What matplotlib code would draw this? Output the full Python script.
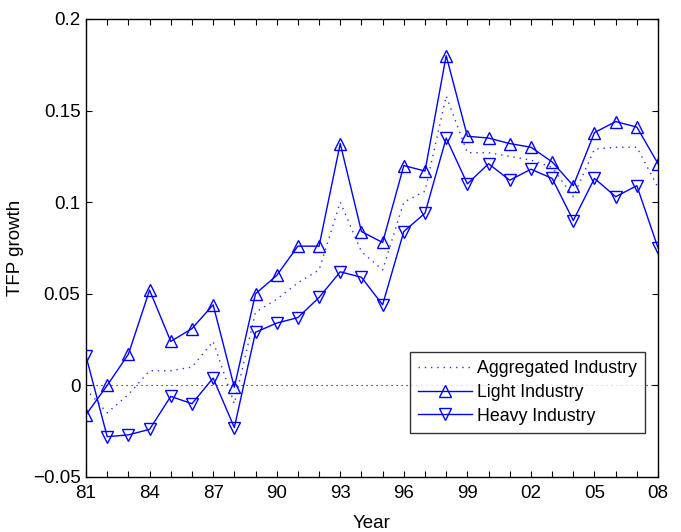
import matplotlib
matplotlib.use('Agg')
import matplotlib.pyplot as plt

years = list(range(1981, 2009))

# TFP growth
aggregated = [-0.002, -0.015, -0.005, 0.008, 0.008, 0.010, 0.024, -0.010,
              0.040, 0.047, 0.056, 0.063, 0.100, 0.073, 0.063, 0.100,
              0.106, 0.158, 0.127, 0.127, 0.125, 0.123, 0.119, 0.103,
              0.129, 0.130, 0.130, 0.108]
light = [-0.016, 0.000, 0.017, 0.052, 0.024, 0.031, 0.044, -0.001,
         0.050, 0.060, 0.076, 0.076, 0.132, 0.084, 0.078, 0.120,
         0.117, 0.180, 0.136, 0.135, 0.132, 0.130, 0.122, 0.109,
         0.138, 0.144, 0.141, 0.121]
heavy = [0.016, -0.028, -0.027, -0.024, -0.006, -0.010, 0.004, -0.023,
         0.029, 0.034, 0.037, 0.048, 0.062, 0.059, 0.044, 0.084,
         0.094, 0.135, 0.110, 0.121, 0.112, 0.118, 0.113, 0.090,
         0.113, 0.103, 0.109, 0.075]

label_years = [1981, 1984, 1987, 1990, 1993, 1996, 1999, 2002, 2005, 2008]
yticks = [-0.05, 0, 0.05, 0.1, 0.15, 0.2]
ytick_labels = ['\u22120.05', '0', '0.05', '0.1', '0.15', '0.2']

plt.rcParams['font.family'] = ['Liberation Sans', 'DejaVu Sans']

fig = plt.figure(figsize=(6.81, 5.32), dpi=100, facecolor='white')
ax = fig.add_axes([0.1263, 0.1034, 0.84, 0.8609])

ax.axhline(0, color='black', linestyle=(0, (1, 3.5)), linewidth=0.8)

ax.plot(years, aggregated, color='#3030ff', linestyle=(0, (1, 3.5)),
        linewidth=1, label='Aggregated Industry')
ax.plot(years, light, color='#0000ff', linewidth=1, marker='^', markersize=9,
        markerfacecolor='none', markeredgewidth=1, label='Light Industry')
ax.plot(years, heavy, color='#0000ff', linewidth=1, marker='v', markersize=9,
        markerfacecolor='none', markeredgewidth=1, label='Heavy Industry')

ax.set_xlim(1981, 2008)
ax.set_ylim(-0.05, 0.2)
ax.set_xticks(years)
ax.set_xticklabels([('%02d' % (y % 100)) if y in label_years else '' for y in years])
ax.set_yticks(yticks)
ax.set_yticklabels(ytick_labels)
ax.tick_params(direction='in', top=True, right=True, length=4, width=0.8,
               labelsize=13.5)
ax.tick_params(axis='x', pad=6)
ax.tick_params(axis='y', pad=4)
for s in ax.spines.values():
    s.set_linewidth(1.0)

ax.set_xlabel('Year', fontsize=13.5, labelpad=9)
ax.set_ylabel('TFP growth', fontsize=13.5, labelpad=6)

leg = ax.legend(loc='lower right', bbox_to_anchor=(0.977, 0.097), fontsize=12.8,
                frameon=True, fancybox=False, edgecolor='black',
                handlelength=3.0, borderpad=0.45, labelspacing=0.38,
                handletextpad=0.3, borderaxespad=0)
leg.get_frame().set_linewidth(1.0)

fig.savefig('out.png', dpi=100)
